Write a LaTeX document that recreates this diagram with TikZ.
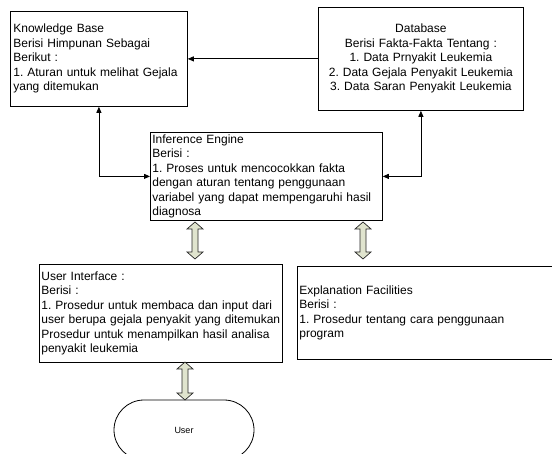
\documentclass[tikz,border=0pt]{standalone}
\usepackage{fontspec}
\setmainfont{Liberation Sans}
\usetikzlibrary{arrows.meta}
\definecolor{arrfill}{RGB}{224,228,206}
\frenchspacing
\tikzset{
  box/.style={draw, line width=0.8pt, rectangle, anchor=north west, inner ysep=0pt, inner xsep=3pt},
  conn/.style={line width=0.8pt, {Triangle[length=6pt,width=5pt]}-{Triangle[length=6pt,width=5pt]}},
  conn1/.style={line width=0.8pt, -{Triangle[length=6pt,width=5pt]}},
  blockarrow/.style={draw=black!85, line width=0.7pt, fill=arrfill, line join=miter}
}
\newcommand{\blockarr}[3]{%
  \filldraw[blockarrow] (#1,#2) -- (#1+8,#2+7) -- (#1+3,#2+7) -- (#1+3,#3-7) -- (#1+8,#3-7)
   -- (#1,#3) -- (#1-8,#3-7) -- (#1-3,#3-7) -- (#1-3,#2+7) -- (#1-8,#2+7) -- cycle;}
\begin{document}
\begin{tikzpicture}[x=1pt,y=-1pt,font=\fontsize{12}{14.5}\selectfont\frenchspacing]
\clip (0,0) rectangle (552,454);
\fill[white] (0,0) rectangle (552,454);

\node[box, text width=171pt, minimum height=95pt, align=left] (kb) at (10,11)
 {Knowledge Base\\Berisi Himpunan Sebagai\\Berikut :\\1. Aturan untuk melihat Gejala\\yang ditemukan};

\node[box, text width=199pt, minimum height=103pt, align=center] (db) at (318,7)
 {Database\\Berisi Fakta-Fakta Tentang :\\1. Data Prnyakit Leukemia\\2. Data Gejala Penyakit Leukemia\\3. Data Saran Penyakit Leukemia};

\node[box, inner xsep=2pt, text width=228pt, minimum height=88pt, align=left] (ie) at (150,132)
 {Inference Engine\\Berisi :\\1. Proses untuk mencocokkan fakta\\dengan aturan tentang penggunaan\\variabel yang dapat mempengaruhi hasil\\diagnosa};

\node[box, inner xsep=2pt, text width=239pt, minimum height=98pt, align=left] (ui) at (39,264)
 {User Interface :\\Berisi :\\1. Prosedur untuk membaca dan input dari\\user berupa gejala penyakit yang ditemukan\\Prosedur untuk menampilkan hasil analisa\\penyakit leukemia};

\node[box, inner xsep=2pt, text width=270pt, minimum height=93pt, align=left] (ef) at (297,266)
 {Explanation Facilities\\Berisi :\\1. Prosedur tentang cara penggunaan\\program};

\node[draw, line width=0.8pt, rounded corners=30pt, minimum width=140pt, minimum height=60pt,
      inner sep=0pt, font=\fontsize{9}{10}\selectfont] (user) at (184,430) {User};

\draw[conn1] (db.west) -- (kb.east);
\draw[conn] (kb.south) |- (ie.west);
\draw[conn] (db.south) |- (ie.east);

\blockarr{195}{222}{259}
\blockarr{363}{222}{259}
\blockarr{185}{362}{400}
\end{tikzpicture}
\end{document}
